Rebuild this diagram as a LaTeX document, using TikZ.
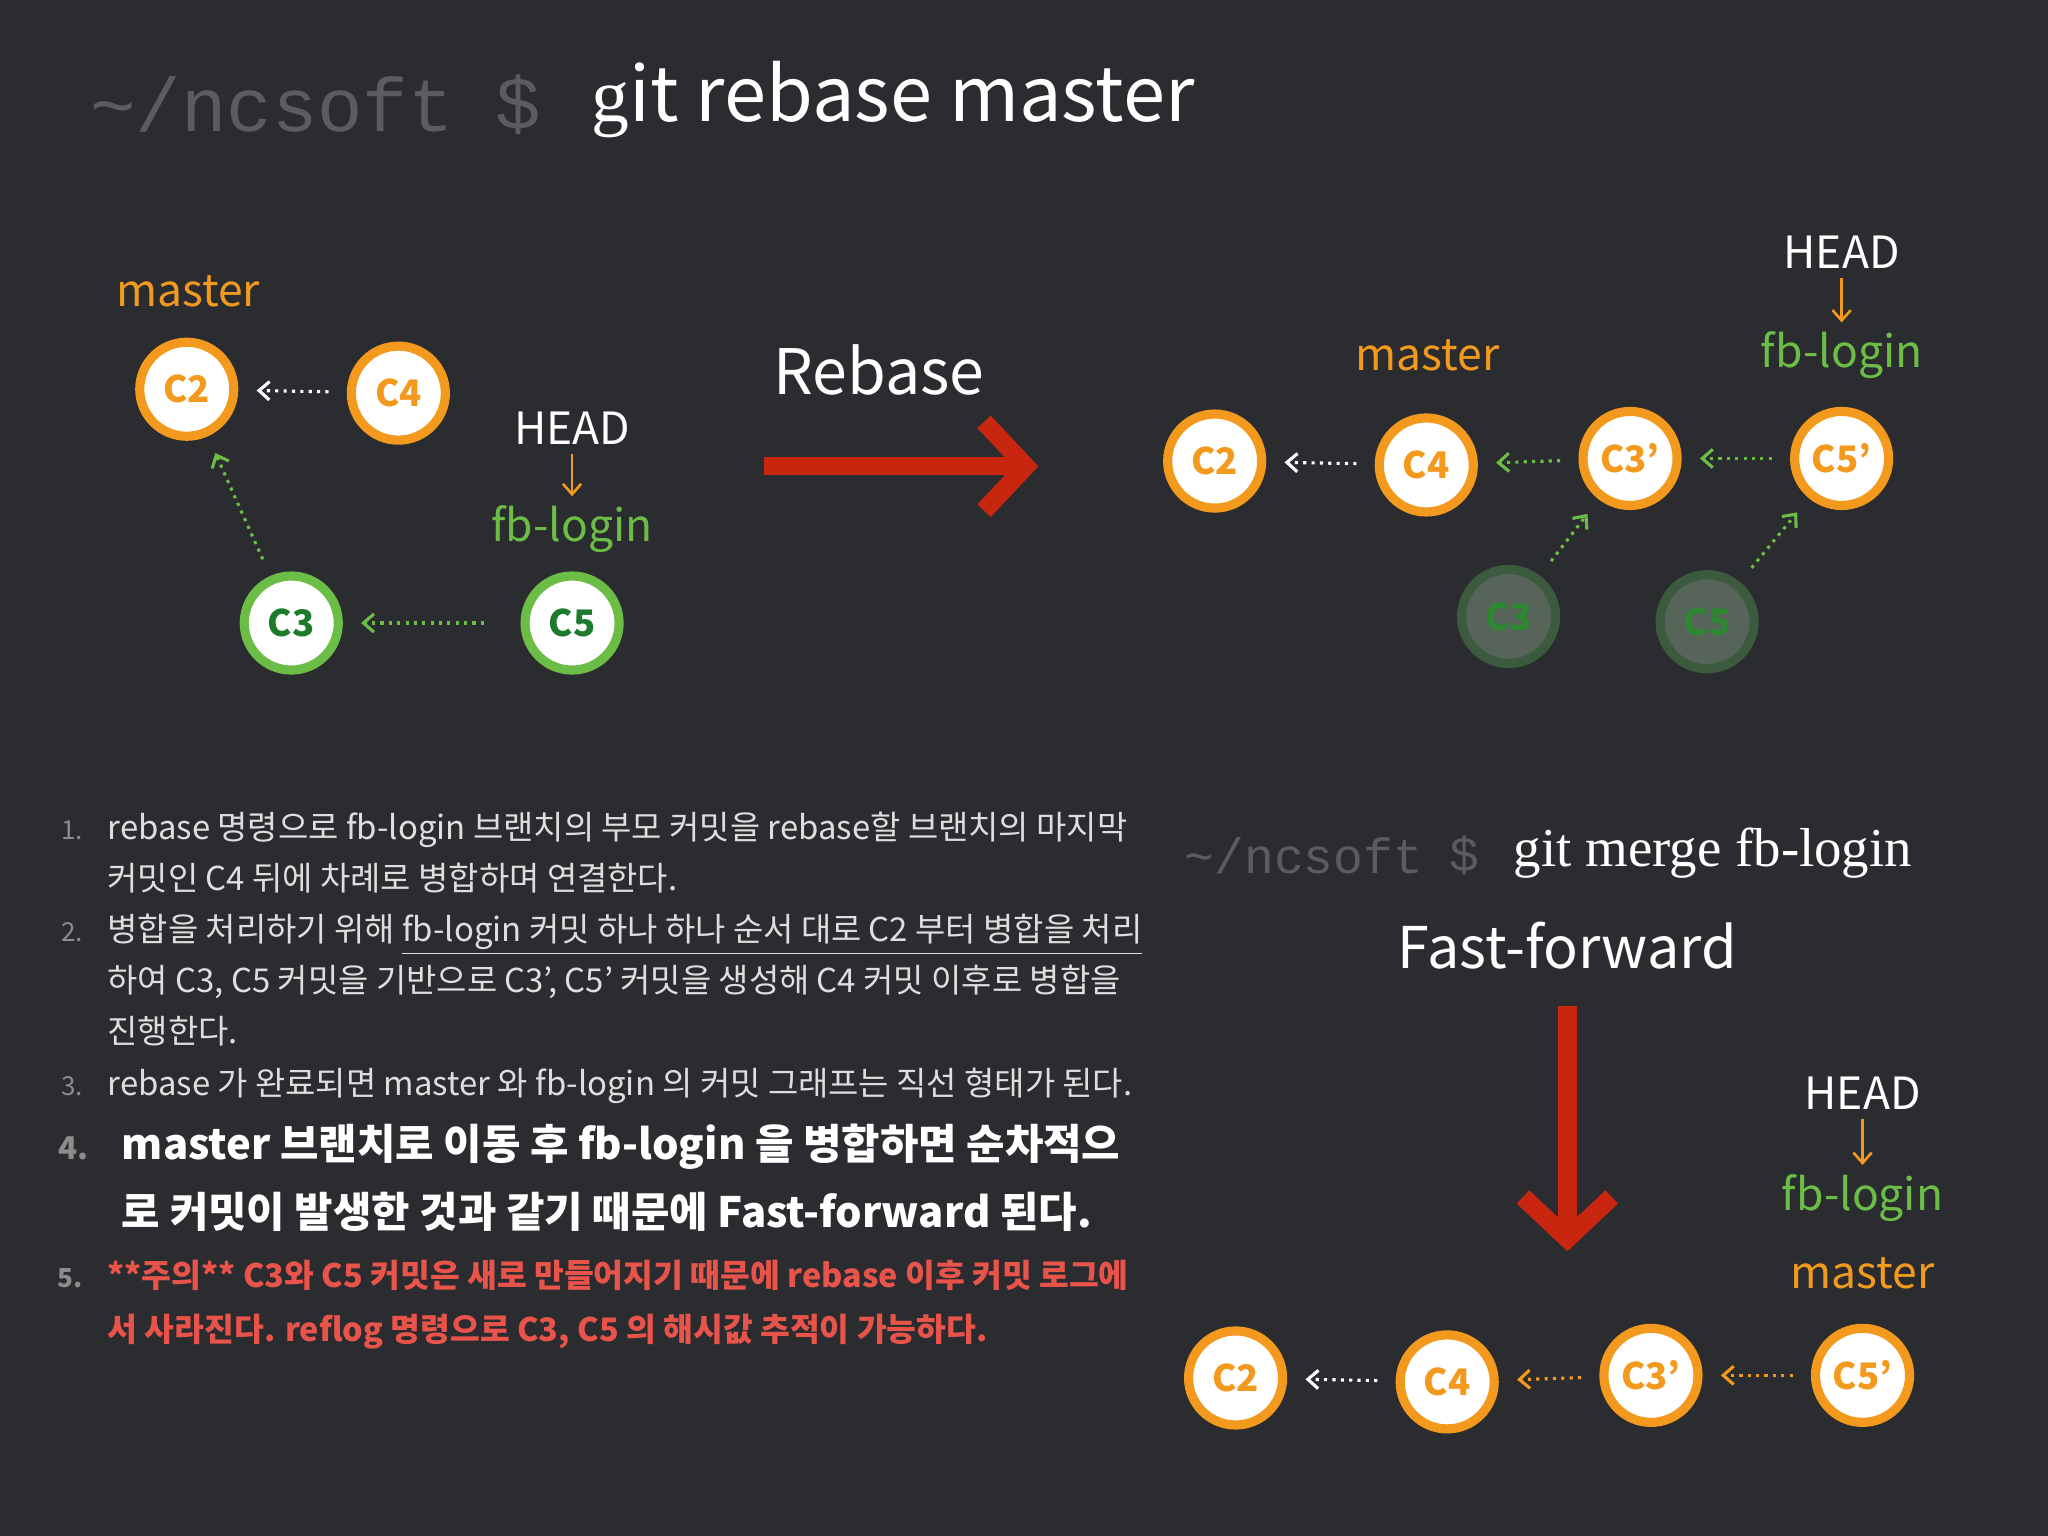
\documentclass[tikz,border=0pt]{standalone}
\usepackage{fontspec}
\setmainfont{Noto Sans CJK KR}
\newfontfamily\monof{Liberation Mono}
\newfontfamily\seriff{Liberation Serif}
\usetikzlibrary{arrows.meta}
\definecolor{bgc}{HTML}{2B2C30}
\definecolor{gorange}{HTML}{F39A1E}
\definecolor{ggreen}{HTML}{6CBD45}
\definecolor{gdkgreen}{HTML}{1D7B2C}
\definecolor{gred}{HTML}{C9260F}
\definecolor{txtred}{HTML}{E8534A}
\definecolor{monogray}{HTML}{5A5C60}
\definecolor{fadefill}{HTML}{56645A}
\definecolor{fadeline}{HTML}{3C5A3E}

\tikzset{
  commit/.style = {circle, fill=white, draw=gorange, line width=3.5pt,
    minimum size=36pt, inner sep=0pt, text=gorange,
    font=\fontsize{14}{14}\selectfont\bfseries},
  topic/.style = {commit, draw=ggreen, text=gdkgreen},
  gone/.style = {commit, fill=fadefill, draw=fadeline, text=gdkgreen!80!ggreen},
  lbl/.style = {font=\fontsize{17}{17}\selectfont},
  ptr/.style = {-{Straight Barb[length=4pt,width=7pt]}, line width=1pt, gorange},
  link/.style = {-{Straight Barb[length=4pt,width=7pt]}, line width=1.2pt,
    dotted, white, shorten <=7pt, shorten >=7pt},
  item/.style = {anchor=base west, text=black!13, inner sep=0pt,
    font=\fontsize{12.6}{12.6}\selectfont},
  bold item/.style = {item, text=white, font=\fontsize{16}{16}\selectfont\bfseries},
  warn item/.style = {item, text=txtred, font=\fontsize{12.4}{12.4}\selectfont\bfseries},
  num/.style = {anchor=base east, text=black!45, inner sep=0pt,
    font=\fontsize{10}{10}\selectfont}
}

\begin{document}
\begin{tikzpicture}[x=0.5pt, y=-0.5pt]
  \fill [bgc] (0,0) rectangle (1568,1176);
  \useasboundingbox (0,0) rectangle (1568,1176);

  % title
  \node [anchor=west, text=monogray, font=\monof\fontsize{29}{29}\selectfont]
    (prompt) at (62,80) {\textasciitilde/ncsoft};
  \node [text=monogray, font=\monof\fontsize{29}{29}\selectfont]
    (dollar) at (397,80) {\$};
  \node [anchor=west, text=white, font=\fontsize{29}{29}\selectfont]
    (cmd) at (446,76) {{\seriff g}it rebase master};

  % before rebase
  \node [commit] (c2) at (143,298) {C2};
  \node [commit] (c4) at (305,301) {C4};
  \node [topic] (c3) at (223,477) {C3};
  \node [topic] (c5) at (438,477) {C5};
  \node [lbl, text=gorange] (master) at (144,223) {master};
  \node [lbl, text=white] (head) at (438,328) {HEAD};
  \node [lbl, text=ggreen] (fb) at (438,405) {fb-login};
  \draw [ptr] (head) -- (fb);
  \draw [link] (c4) -- (c2);
  \draw [link, ggreen, shorten <=14pt] (c5) -- (c3);
  \draw [link, ggreen] (c3) -- (c2);

  % rebase arrow
  \node [text=white, font=\fontsize{24}{24}\selectfont] (rebase) at (673,283) {Rebase};
  \coordinate (r1) at (585,357);
  \coordinate (r2) at (795,357);
  \draw [gred, line width=7pt, -{Straight Barb[length=16pt,width=34pt,line width=7pt]}]
    (r1) -- (r2);

  % after rebase
  \node [commit] (d2) at (930,353) {C2};
  \node [commit] (d4) at (1092,356) {C4};
  \node [commit] (d3) at (1248,351) {C3'};
  \node [commit] (d5) at (1410,351) {C5'};
  \node [gone] (o3) at (1155,472) {C3};
  \node [gone] (o5) at (1307,476) {C5};
  \node [lbl, text=gorange] (master2) at (1093,272) {master};
  \node [lbl, text=white] (head2) at (1410,193) {HEAD};
  \node [lbl, text=ggreen] (fb2) at (1410,272) {fb-login};
  \draw [ptr] (head2) -- (fb2);
  \draw [link] (d4) -- (d2);
  \draw [link, ggreen] (d3) -- (d4);
  \draw [link, ggreen] (d5) -- (d3);
  \draw [link, ggreen] (o3) -- (d3);
  \draw [link, ggreen] (o5) -- (d5);

  % merge
  \node [anchor=west, text=monogray, font=\monof\fontsize{19}{19}\selectfont]
    (prompt2) at (900,655) {\textasciitilde/ncsoft};
  \node [text=monogray, font=\monof\fontsize{19}{19}\selectfont]
    (dollar2) at (1121,655) {\$};
  \node [anchor=west, text=white, font=\seriff\fontsize{21}{21}\selectfont]
    (cmd2) at (1152,653) {git merge fb-login};
  \node [text=white, font=\fontsize{22}{22}\selectfont] (ff) at (1200,724) {Fast-forward};
  \coordinate (f1) at (1200,770);
  \coordinate (f2) at (1200,958);
  \draw [gred, line width=7pt, -{Straight Barb[length=16pt,width=34pt,line width=7pt]}]
    (f1) -- (f2);

  \node [commit] (e2) at (946,1055) {C2};
  \node [commit] (e4) at (1108,1058) {C4};
  \node [commit] (e3) at (1264,1053) {C3'};
  \node [commit] (e5) at (1426,1053) {C5'};
  \node [lbl, text=white] (head3) at (1426,837) {HEAD};
  \node [lbl, text=ggreen] (fb3) at (1426,917) {fb-login};
  \node [lbl, text=gorange] (master3) at (1426,975) {master};
  \draw [ptr] (head3) -- (fb3);
  \draw [link] (e4) -- (e2);
  \draw [link, gorange] (e3) -- (e4);
  \draw [link, gorange] (e5) -- (e3);

  % notes
  \node [num] (n1) at (64,643) {1.};
  \node [item] (l1) at (82,643) {rebase 명령으로 fb-login 브랜치의 부모 커밋을 rebase할 브랜치의 마지막};
  \node [item] (l1b) at (82,682) {커밋인 C4 뒤에 차례로 병합하며 연결한다.};
  \node [num] (n2) at (64,721) {2.};
  \node [item] (l2) at (82,721) {병합을 처리하기 위해 \underline{fb-login 커밋 하나 하나 순서 대로 C2 부터 병합을 처리}};
  \node [item] (l2b) at (82,760) {하여 C3, C5 커밋을 기반으로 C3', C5' 커밋을 생성해 C4 커밋 이후로 병합을};
  \node [item] (l2c) at (82,799) {진행한다.};
  \node [num] (n3) at (64,839) {3.};
  \node [item] (l3) at (82,839) {rebase 가 완료되면 master 와 fb-login 의 커밋 그래프는 직선 형태가 된다.};
  \node [num, font=\fontsize{12}{12}\selectfont\bfseries] (n4) at (68,888) {4.};
  \node [bold item] (l4) at (93,888) {master 브랜치로 이동 후 fb-login 을 병합하면 순차적으};
  \node [bold item] (l4b) at (93,940) {로 커밋이 발생한 것과 같기 때문에 Fast-forward 된다.};
  \node [num, font=\fontsize{10}{10}\selectfont\bfseries] (n5) at (64,986) {5.};
  \node [warn item] (l5) at (82,986) {**주의** C3와 C5 커밋은 새로 만들어지기 때문에 rebase 이후 커밋 로그에};
  \node [warn item] (l5b) at (82,1027) {서 사라진다. reflog 명령으로 C3, C5 의 해시값 추적이 가능하다.};
\end{tikzpicture}
\end{document}
